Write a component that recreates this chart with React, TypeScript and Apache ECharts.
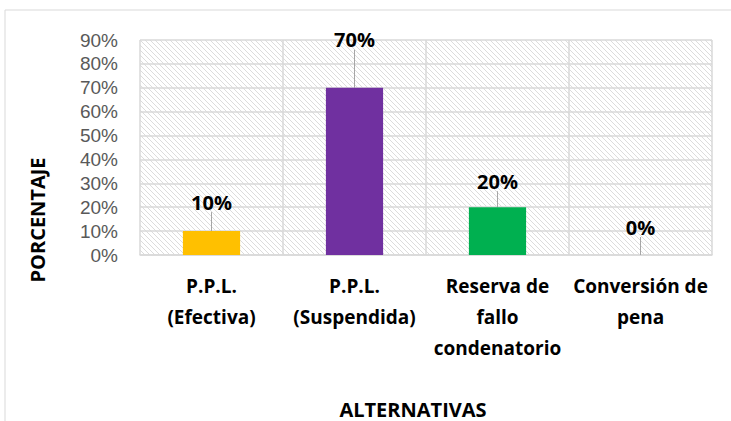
import React, { useEffect, useRef } from "react";
import * as echarts from "echarts";

const categories = ["P.P.L.\n(Efectiva)", "P.P.L.\n(Suspendida)", "Reserva de\nfallo\ncondenatorio", "Conversión de\npena"];
const values = [10, 70, 20, 0];
const barColors = ["#FFC000", "#7030A0", "#00B050", "#7F7F7F"];
const labelShift = [-14, -33, -11, -13];
const yTicks = { min: 0, max: 90, interval: 10 };

const FONT = "'Open Sans', Lato, sans-serif";
const TICK_FONT = "'Liberation Sans', Arial, sans-serif";

const hatch =
  "data:image/svg+xml;utf8," +
  encodeURIComponent(
    '<svg xmlns="http://www.w3.org/2000/svg" width="5" height="5"><path d="M-1,-1 L6,6 M-1,4 L1,6 M4,-1 L6,1" stroke="#dcdcdc" stroke-width="1"/></svg>'
  );

export default function App() {
  const ref = useRef<HTMLDivElement>(null);
  useEffect(() => {
    const chart = echarts.init(ref.current!, undefined, { renderer: "svg" });
    chart.setOption({
      animation: false,
      backgroundColor: "#ffffff",
      grid: {
        left: 140,
        right: 19,
        top: 40,
        bottom: 166,
        show: true,
        borderWidth: 0,
        backgroundColor: { image: hatch, repeat: "repeat" },
      },
      graphic: [
        {
          type: "rect",
          shape: { x: 5, y: 10, width: 900, height: 600 },
          style: { fill: "none", stroke: "#d9d9d9", lineWidth: 1 },
          z: -10,
        },
        {
          type: "text",
          x: 37,
          y: 220,
          rotation: Math.PI / 2,
          style: {
            text: "PORCENTAJE",
            font: `bold 20px ${FONT}`,
            fill: "#000",
            align: "center",
            verticalAlign: "middle",
          },
        },
        {
          type: "text",
          x: 413,
          y: 409,
          style: {
            text: "ALTERNATIVAS",
            font: `bold 20px ${FONT}`,
            fill: "#000",
            align: "center",
            verticalAlign: "middle",
          },
        },
      ],
      xAxis: {
        type: "category",
        data: categories,
        axisLine: { show: true, lineStyle: { color: "#d9d9d9", width: 1.5 } },
        axisTick: { show: false },
        splitLine: { show: true, lineStyle: { color: "#d9d9d9", width: 1.5 } },
        axisLabel: {
          interval: 0,
          margin: 15,
          color: "#000",
          fontFamily: FONT,
          fontWeight: "bold",
          fontSize: 19,
          lineHeight: 31,
          verticalAlign: "top",
        },
      },
      yAxis: {
        type: "value",
        min: yTicks.min,
        max: yTicks.max,
        interval: yTicks.interval,
        axisLine: { show: false },
        axisTick: { show: false },
        splitLine: { show: true, lineStyle: { color: "#d9d9d9", width: 1.5 } },
        axisLabel: {
          formatter: "{value}%",
          color: "#595959",
          fontFamily: TICK_FONT,
          fontSize: 19,
          lineHeight: 20,
          margin: 22,
        },
      },
      series: [
        {
          type: "bar",
          barWidth: "40%",
          data: values.map((v, i) => ({ value: v, itemStyle: { color: barColors[i] } })),
          label: {
            show: true,
            position: "top",
            distance: 5,
            formatter: "{c}%",
            color: "#000",
            fontFamily: FONT,
            fontWeight: "bold",
            fontSize: 20,
          },
          labelLayout: (p: any) => ({ dy: labelShift[p.dataIndex] }),
          labelLine: { show: true, lineStyle: { color: "#a6a6a6", width: 1 } },
        },
      ],
    });
    return () => chart.dispose();
  }, []);
  return <div ref={ref} style={{ position: "fixed", left: 0, top: 0, width: 731, height: 421 }} />;
}
